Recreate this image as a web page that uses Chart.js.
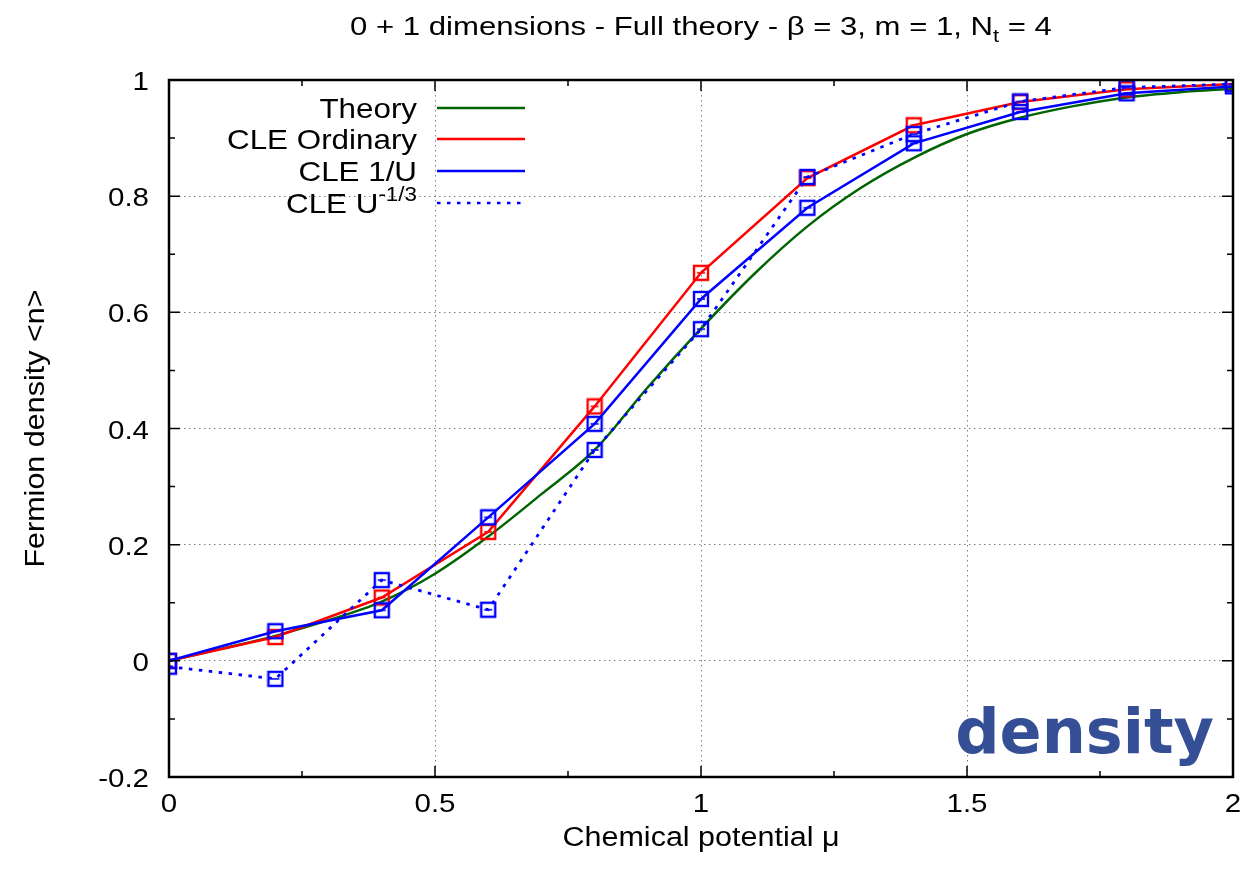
<!DOCTYPE html>
<html>
<head>
<meta charset="utf-8">
<script src="https://cdn.jsdelivr.net/npm/chart.js@4.4.1/dist/chart.umd.min.js"></script>
<style>
  html, body { margin: 0; padding: 0; background: #ffffff; }
  canvas { display: block; }
</style>
</head>
<body>
<canvas id="chart" width="1248" height="873"></canvas>
<script>
// Chemical potential values where the CLE simulations were run
const mu = [0, 0.2, 0.4, 0.6, 0.8, 1.0, 1.2, 1.4, 1.6, 1.8, 2.0];

// Fermion density from the three CLE variants
const cleOrdinary = [0.000, 0.041, 0.109, 0.222, 0.438, 0.668, 0.831, 0.922, 0.962, 0.984, 0.993];
const cleInverseU = [0.000, 0.051, 0.087, 0.247, 0.408, 0.623, 0.780, 0.891, 0.945, 0.977, 0.989];
const cleCubeRoot = [-0.010, -0.031, 0.139, 0.088, 0.363, 0.571, 0.833, 0.907, 0.963, 0.987, 0.993];

// Exact result, tabulated on a finer grid
const theoryMu = [0, 0.1, 0.2, 0.3, 0.4, 0.5, 0.6, 0.7, 0.8, 0.9, 1.0,
                  1.1, 1.2, 1.3, 1.4, 1.5, 1.6, 1.7, 1.8, 1.9, 2.0];
const theoryDensity = [0.000, 0.021, 0.043, 0.070, 0.102, 0.150, 0.214, 0.287, 0.363, 0.471, 0.572,
                       0.666, 0.748, 0.814, 0.866, 0.907, 0.935, 0.955, 0.970, 0.979, 0.985];

const seriesLabels = ['Theory', 'CLE Ordinary', 'CLE 1/U', 'CLE U^{-1/3}'];
const seriesColors = ['#006400', '#ff0000', '#0000ff', '#0000ff'];

// Axis ticks and their labels
const xMajor = [0, 0.5, 1, 1.5, 2];
const xLabels = ['0', '0.5', '1', '1.5', '2'];
const xMinor = [0.25, 0.75, 1.25, 1.75];
const yMajor = [-0.2, 0, 0.2, 0.4, 0.6, 0.8, 1];
const yLabels = ['-0.2', '0', '0.2', '0.4', '0.6', '0.8', '1'];
const yMinor = [-0.1, 0.1, 0.3, 0.5, 0.7, 0.9];

const titleText = '0 + 1 dimensions - Full theory - \u03b2 = 3, m = 1, N_{t} = 4';
const xTitle = 'Chemical potential \u03bc';
const yTitle = 'Fermion density <n>';
const tagText = 'density';

const FONT = '"Liberation Sans", Arial, Helvetica, sans-serif';

// Open square marker with a short bar across its middle
function makeMarker(color) {
  const c = document.createElement('canvas');
  c.width = 18; c.height = 18;
  const g = c.getContext('2d');
  g.strokeStyle = color;
  g.lineWidth = 2.4;
  g.strokeRect(2, 2, 14, 14);
  g.lineWidth = 1.6;
  g.beginPath();
  g.moveTo(5, 9); g.lineTo(13, 9);
  g.stroke();
  return c;
}

const pts = vals => mu.map((m, i) => ({ x: m, y: vals[i] }));

// Splits text into plain / ^{sup} / _{sub} pieces
function parseRich(text) {
  const parts = [];
  text.split(/(\^\{[^}]*\}|_\{[^}]*\})/).forEach(p => {
    if (!p) return;
    if (p[0] === '^') parts.push({ t: p.slice(2, -1), kind: 'sup' });
    else if (p[0] === '_') parts.push({ t: p.slice(2, -1), kind: 'sub' });
    else parts.push({ t: p, kind: 'n' });
  });
  return parts;
}

// Draws rich text; sx widens the glyphs horizontally
function drawRich(ctx, text, x, y, size, align, sx) {
  sx = sx || 1;
  const parts = parseRich(text);
  const small = Math.round(size * 0.72);
  const fontFor = k => (k === 'n' ? size : small) + 'px ' + FONT;
  let total = 0;
  parts.forEach(p => { ctx.font = fontFor(p.kind); p.w = ctx.measureText(p.t).width; total += p.w; });
  ctx.save();
  ctx.translate(x, y);
  ctx.scale(sx, 1);
  let cx = align === 'right' ? -total : align === 'center' ? -total / 2 : 0;
  ctx.textAlign = 'left';
  ctx.textBaseline = 'alphabetic';
  parts.forEach(p => {
    ctx.font = fontFor(p.kind);
    const dy = p.kind === 'sup' ? -size * 0.42 : p.kind === 'sub' ? size * 0.28 : 0;
    ctx.fillText(p.t, cx, dy);
    cx += p.w;
  });
  ctx.restore();
}

const framePlugin = {
  id: 'frame',
  afterDatasetsDraw(chart) {
    const { ctx, chartArea: a, scales: { x, y } } = chart;
    ctx.save();
    // Inward tick marks on all four sides
    ctx.strokeStyle = '#000';
    ctx.lineWidth = 1.5;
    const tickX = (vals, len) => {
      vals.forEach(v => {
        const px = x.getPixelForValue(v);
        ctx.beginPath();
        ctx.moveTo(px, a.bottom); ctx.lineTo(px, a.bottom - len);
        ctx.moveTo(px, a.top); ctx.lineTo(px, a.top + len);
        ctx.stroke();
      });
    };
    const tickY = (vals, len) => {
      vals.forEach(v => {
        const py = y.getPixelForValue(v);
        ctx.beginPath();
        ctx.moveTo(a.left, py); ctx.lineTo(a.left + len, py);
        ctx.moveTo(a.right, py); ctx.lineTo(a.right - len, py);
        ctx.stroke();
      });
    };
    tickX(xMajor, 11); tickX(xMinor, 6);
    tickY(yMajor, 11); tickY(yMinor, 6);
    // Plot border
    ctx.lineWidth = 2.5;
    ctx.strokeRect(a.left, a.top, a.right - a.left, a.bottom - a.top);

    // Tick labels
    ctx.fillStyle = '#000';
    xMajor.forEach((v, i) => drawRich(ctx, xLabels[i], x.getPixelForValue(v), a.bottom + 35, 25, 'center', 1.18));
    yMajor.forEach((v, i) => drawRich(ctx, yLabels[i], a.left - 20, y.getPixelForValue(v) + 10, 25, 'right', 1.18));

    // Key in the upper left corner
    const rowY = [108, 139, 171, 203];
    chart.data.datasets.forEach((ds, i) => {
      ctx.fillStyle = '#000';
      drawRich(ctx, seriesLabels[i], 417, rowY[i] + 10, 28, 'right', 1.12);
      ctx.strokeStyle = ds.borderColor;
      ctx.lineWidth = 2.6;
      ctx.setLineDash(ds.borderDash || []);
      ctx.beginPath();
      ctx.moveTo(437, rowY[i]); ctx.lineTo(525, rowY[i]);
      ctx.stroke();
      ctx.setLineDash([]);
    });

    // Panel tag
    ctx.fillStyle = '#354f96';
    ctx.font = 'bold 62px "DejaVu Sans", Verdana, sans-serif';
    ctx.textAlign = 'right';
    ctx.textBaseline = 'alphabetic';
    ctx.fillText(tagText, 1214, 753);
    ctx.restore();
  },
  afterDraw(chart) {
    const { ctx, chartArea: a } = chart;
    ctx.save();
    ctx.fillStyle = '#000';
    const cx = (a.left + a.right) / 2;
    drawRich(ctx, titleText, cx, 35, 25.5, 'center', 1.22);
    drawRich(ctx, xTitle, cx, 846, 27, 'center', 1.13);
    ctx.translate(44, (a.top + a.bottom) / 2);
    ctx.rotate(-Math.PI / 2);
    drawRich(ctx, yTitle, 0, 0, 27, 'center', 1.13);
    ctx.restore();
  }
};

new Chart(document.getElementById('chart'), {
  type: 'line',
  data: {
    datasets: [
      {
        label: seriesLabels[0],
        data: theoryMu.map((m, i) => ({ x: m, y: theoryDensity[i] })),
        borderColor: seriesColors[0], borderWidth: 2.5,
        pointRadius: 0, cubicInterpolationMode: 'monotone', order: 4
      },
      {
        label: seriesLabels[1], data: pts(cleOrdinary),
        borderColor: seriesColors[1], borderWidth: 2.5,
        pointStyle: makeMarker(seriesColors[1]), pointRadius: 9, order: 3
      },
      {
        label: seriesLabels[2], data: pts(cleInverseU),
        borderColor: seriesColors[2], borderWidth: 2.5,
        pointStyle: makeMarker(seriesColors[2]), pointRadius: 9, order: 2
      },
      {
        label: seriesLabels[3], data: pts(cleCubeRoot),
        borderColor: seriesColors[3], borderWidth: 2.8, borderDash: [3.5, 6.5],
        pointStyle: makeMarker(seriesColors[3]), pointRadius: 9, order: 1
      }
    ]
  },
  options: {
    responsive: false,
    animation: false,
    devicePixelRatio: 1,
    layout: { padding: { left: 0, top: 80, right: 15, bottom: 0 } },
    plugins: { legend: { display: false }, tooltip: { enabled: false }, title: { display: false } },
    elements: { line: { tension: 0, fill: false } },
    scales: {
      x: {
        type: 'linear', min: 0, max: 2,
        afterBuildTicks: s => { s.ticks = xMajor.map(v => ({ value: v })); },
        afterFit: s => { s.height = 96; },
        ticks: { display: false },
        grid: { color: '#808080', lineWidth: 1, drawTicks: false },
        border: { display: false, dash: [1.5, 3.5] }
      },
      y: {
        type: 'linear', min: -0.2, max: 1,
        afterBuildTicks: s => { s.ticks = yMajor.map(v => ({ value: v })); },
        afterFit: s => { s.width = 169; },
        ticks: { display: false },
        grid: { color: '#808080', lineWidth: 1, drawTicks: false },
        border: { display: false, dash: [1.5, 3.5] }
      }
    }
  },
  plugins: [framePlugin]
});
</script>
</body>
</html>
